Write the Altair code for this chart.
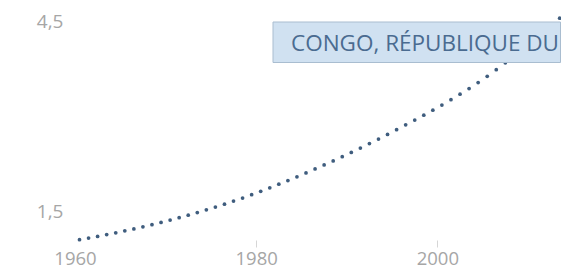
import altair as alt
import pandas as pd

# Population, Congo (Rep.), millions, one value per year
years = list(range(1960, 2014))
population = [
    1.013, 1.039, 1.065, 1.093, 1.122, 1.152, 1.183, 1.216, 1.250, 1.285,
    1.322, 1.360, 1.399, 1.440, 1.483, 1.527, 1.573, 1.621, 1.670, 1.722,
    1.775, 1.830, 1.887, 1.945, 2.005, 2.066, 2.128, 2.191, 2.255, 2.321,
    2.388, 2.457, 2.528, 2.600, 2.673, 2.748, 2.823, 2.899, 2.976, 3.055,
    3.136, 3.220, 3.306, 3.396, 3.490, 3.589, 3.693, 3.801, 3.913, 4.028,
    4.145, 4.264, 4.384, 4.505,
]
x_ticks = [1960, 1980, 2000]
y_ticks = [1.5, 4.5]
series_label = "CONGO, RÉPUBLIQUE DU"

# values plotted at mid-year
df = pd.DataFrame({"year": [y + 0.5 for y in years], "pop": population})

W, H = 491, 226

x_scale = alt.Scale(domain=[1959.4514, 2013.645], nice=False, zero=False)
y_scale = alt.Scale(domain=[1.0080, 4.5709], nice=False, zero=False)

points = alt.Chart(df).mark_circle(size=14, color="#3f5d7e", opacity=1).encode(
    x=alt.X(
        "year:Q",
        scale=x_scale,
        axis=alt.Axis(
            values=x_ticks,
            format="d",
            title=None,
            grid=False,
            domain=False,
            ticks=True,
            tickSize=7,
            tickColor={"condition": {"test": "datum.value === 1960", "value": "transparent"}, "value": "#d6d6d6"},
            labelPadding=17.5,
            labelBaseline="alphabetic",
            labelFont="Open Sans",
            labelFontSize=18.5,
            labelColor="#a6a6a6",
        ),
    ),
    y=alt.Y(
        "pop:Q",
        scale=y_scale,
        axis=alt.Axis(
            values=y_ticks,
            labelExpr="replace(format(datum.value, '.1f'), '.', ',')",
            title=None,
            grid=False,
            domain=False,
            ticks=False,
            labelPadding=7,
            labelOffset=3,
            labelFont="Open Sans",
            labelFontSize=19,
            labelColor="#a6a6a6",
        ),
    ),
)

box = alt.Chart(pd.DataFrame({"label": [series_label]})).mark_rect(
    fill="#d0e1f1", stroke="#a9bdd0", strokeWidth=1
).encode(
    x=alt.value(203), x2=alt.value(490.5), y=alt.value(8), y2=alt.value(48.5)
)

text = alt.Chart(pd.DataFrame({"label": [series_label]})).mark_text(
    font="Open Sans", fontSize=22.5, color="#4a6b90", align="center", baseline="alphabetic"
).encode(
    text="label:N", x=alt.value(355), y=alt.value(36.5)
)

chart = alt.layer(points, box, text).properties(
    width=W,
    height=H,
    autosize=alt.AutoSizeParams(type="none"),
    padding={"left": 62, "top": 6, "right": 0, "bottom": 30},
    background="white",
).configure_view(stroke=None)

chart.save("out.html", embed_options={"renderer": "svg", "actions": False})
